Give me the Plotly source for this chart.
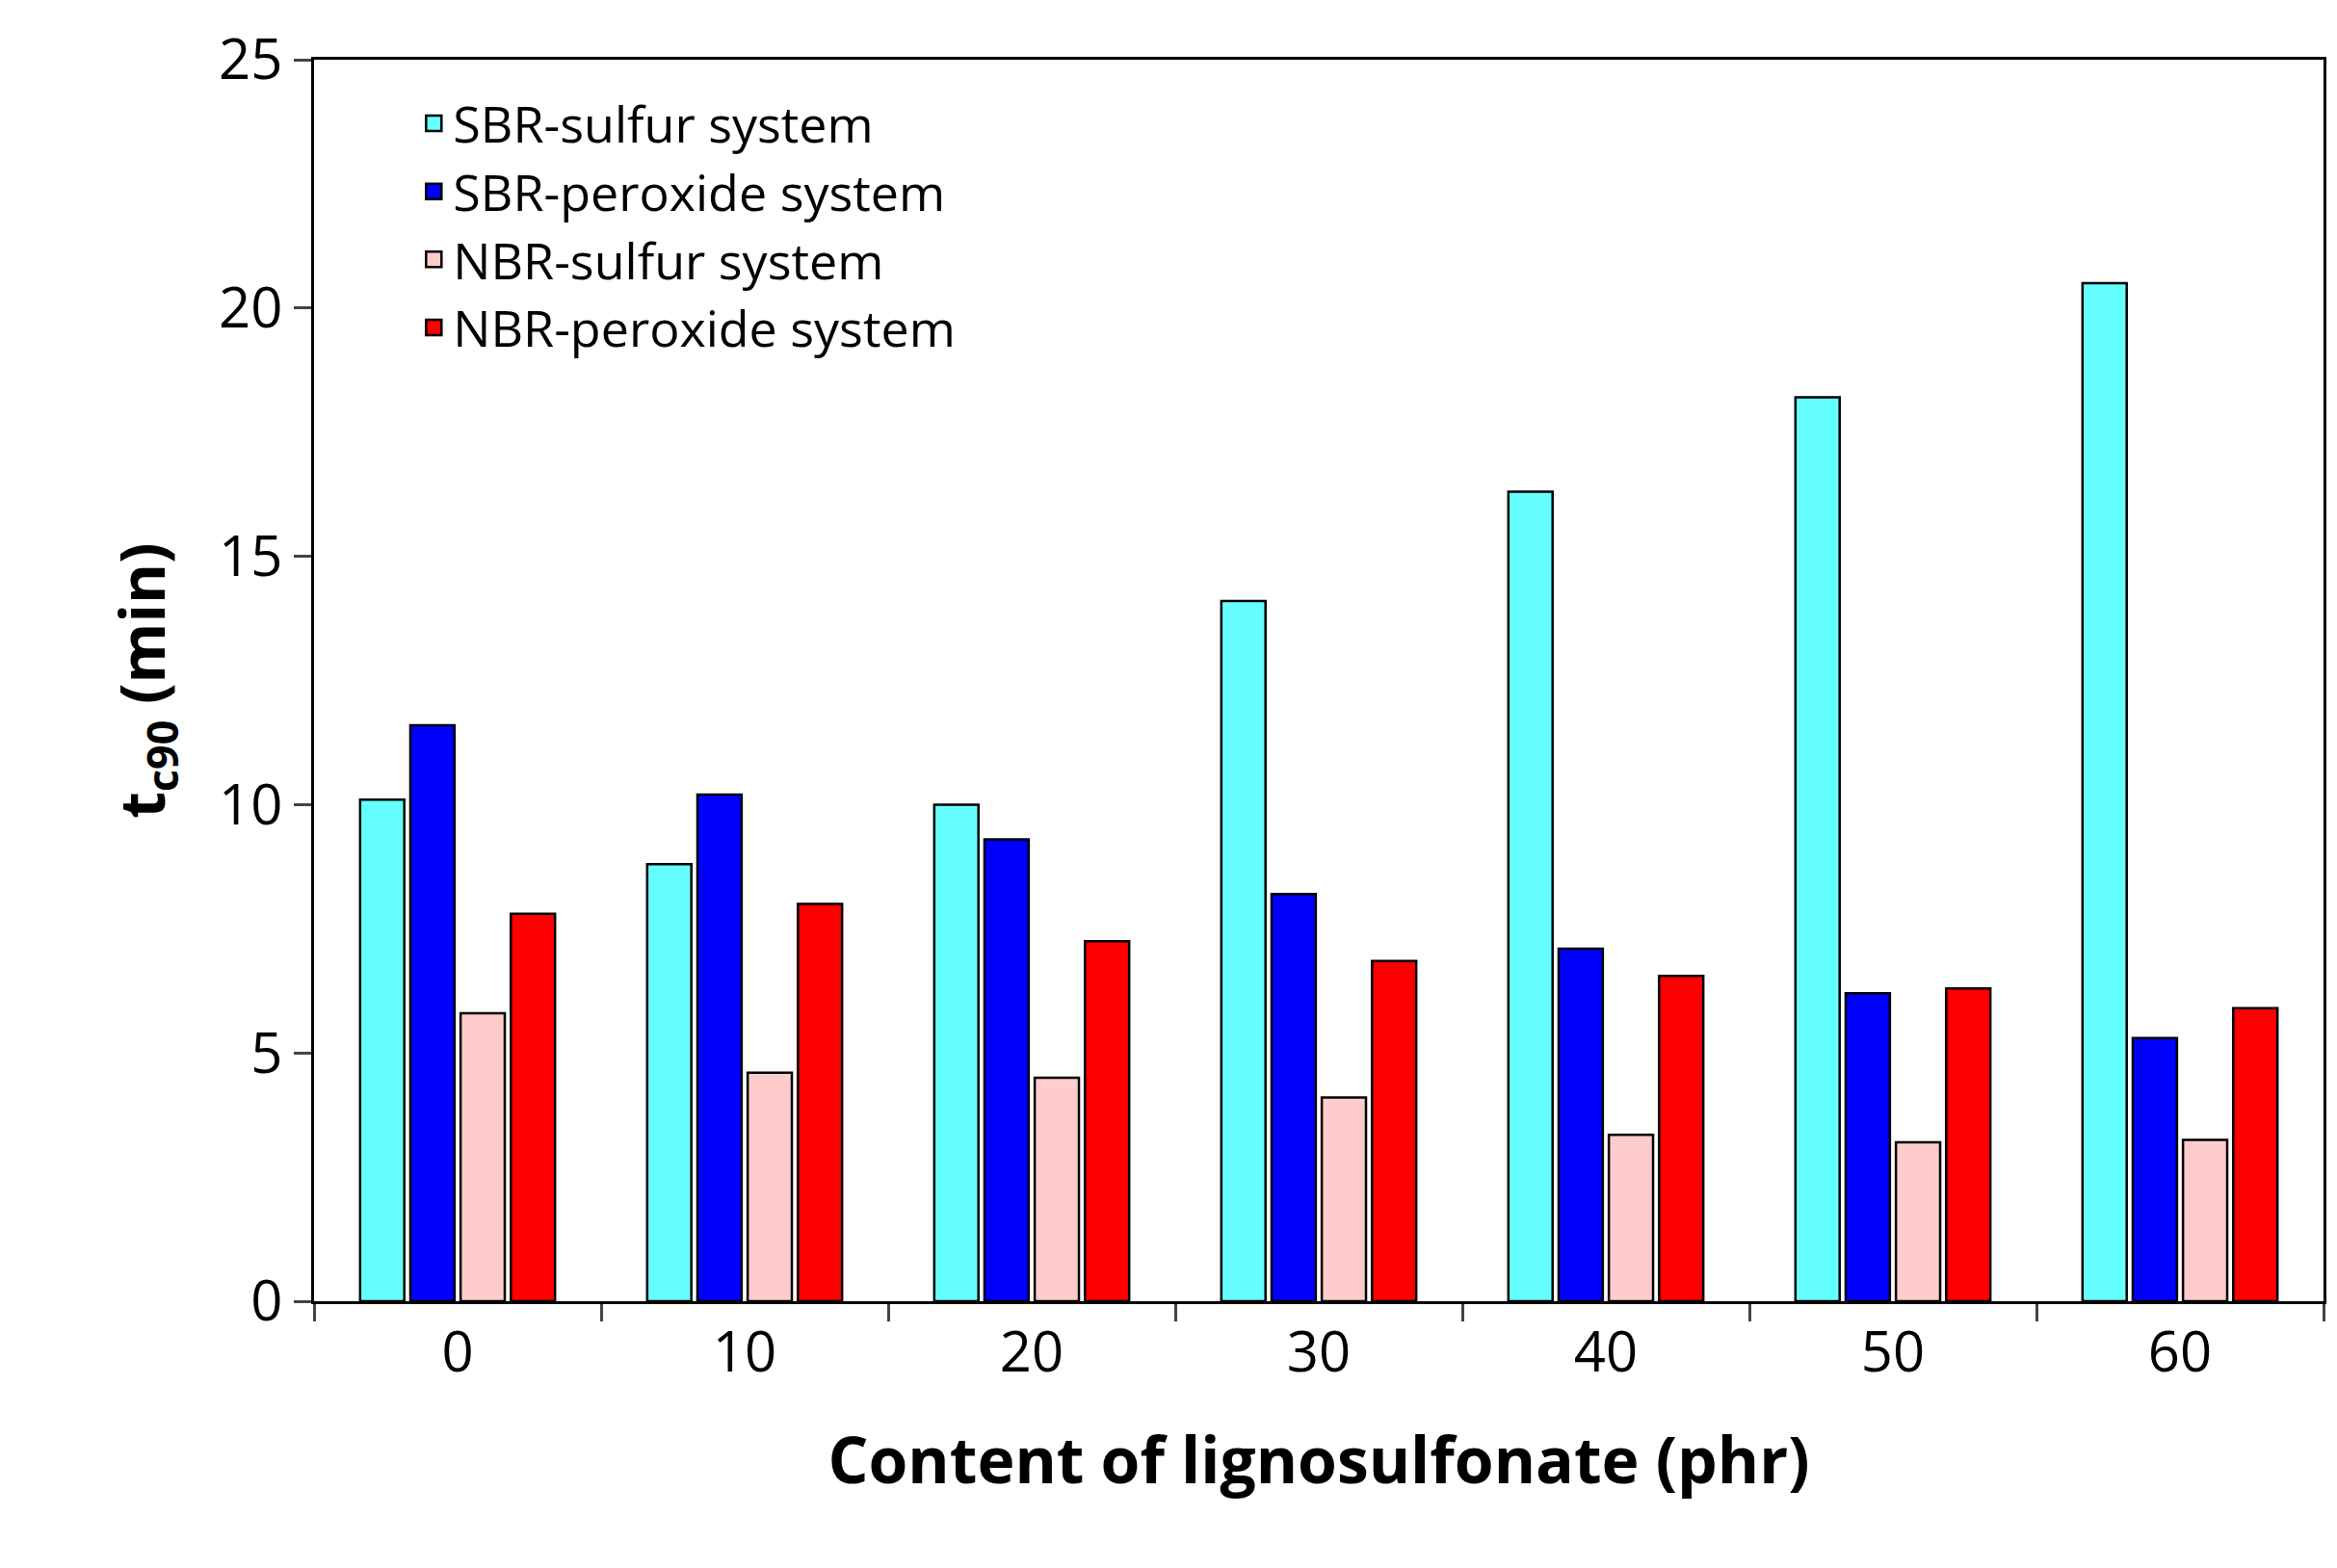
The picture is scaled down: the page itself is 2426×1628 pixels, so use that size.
import plotly.graph_objects as go

# ── 数据 ──
content = ["0", "10", "20", "30", "40", "50", "60"]
sbr_sulfur = [10.1, 8.8, 10.0, 14.1, 16.3, 18.2, 20.5]
sbr_peroxide = [11.6, 10.2, 9.3, 8.2, 7.1, 6.2, 5.3]
nbr_sulfur = [5.8, 4.6, 4.5, 4.1, 3.35, 3.2, 3.25]
nbr_peroxide = [7.8, 8.0, 7.25, 6.85, 6.55, 6.3, 5.9]

series = [
    ("SBR-sulfur system", sbr_sulfur, "#66FFFF"),
    ("SBR-peroxide system", sbr_peroxide, "#0000FF"),
    ("NBR-sulfur system", nbr_sulfur, "#FFCCCC"),
    ("NBR-peroxide system", nbr_peroxide, "#FF0000"),
]

fig = go.Figure()
for name, vals, c in series:
    fig.add_trace(go.Bar(
        x=content, y=vals, name=name, showlegend=False,
        marker=dict(color=c, line=dict(color="black", width=2.5)),
    ))
# 图例用方块（柱状图例太小）
for name, vals, c in series:
    fig.add_trace(go.Scatter(
        x=[None], y=[None], mode="markers", name=name,
        marker=dict(symbol="square", size=34, color=c, line=dict(color="black", width=2.5)),
    ))

font = "Open Sans, Noto Sans, sans-serif"
fig.update_layout(
    width=2426, height=1628,
    barmode="group", bargap=0.3, bargroupgap=0.12,
    plot_bgcolor="white", paper_bgcolor="white",
    font=dict(family=font, size=58, color="black"),
    margin=dict(l=318, r=22, t=48, b=285),
    legend=dict(x=0.05, y=0.98, xanchor="left", yanchor="top",
                font=dict(size=52), bgcolor="rgba(0,0,0,0)",
                itemsizing="trace", tracegroupgap=0),
    xaxis=dict(
        title=dict(text="<b>Content of lignosulfonate (phr)</b>", font=dict(size=66), standoff=55),
        showline=True, linecolor="black", linewidth=3, mirror=True,
        ticks="outside", tickson="boundaries", ticklen=18, tickwidth=3,
        tickfont=dict(size=58),
    ),
    yaxis=dict(
        title=dict(text="<b>t<sub>c90</sub> (min)</b>", font=dict(size=64), standoff=35),
        range=[0, 25], dtick=5,
        showline=True, linecolor="black", linewidth=3, mirror=True,
        ticks="outside", ticklen=18, tickwidth=3, showgrid=False, zeroline=False,
        tickfont=dict(size=58),
    ),
)

fig.write_html("out.html")
